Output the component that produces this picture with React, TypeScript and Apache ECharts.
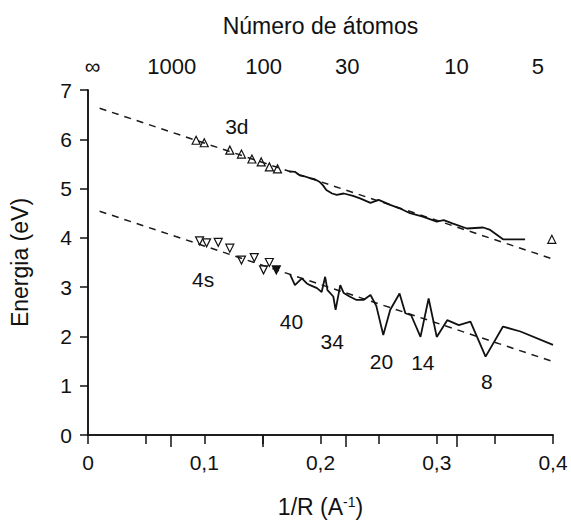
import React, { useEffect, useRef } from "react";
import * as echarts from "echarts";

// Fitted (dashed) lines
const fitX = [0.01, 0.4];
const fit3dY = [6.63, 3.57];
const fit4sY = [4.54, 1.49];

// 3d: open up-triangles (small clusters)
const d3MarkX = [0.093, 0.1, 0.122, 0.132, 0.141, 0.149, 0.156, 0.163, 0.399];
const d3MarkY = [5.98, 5.93, 5.78, 5.7, 5.6, 5.54, 5.44, 5.4, 3.97];

// 3d: continuous curve
const d3LineX = [0.173, 0.178, 0.182, 0.186, 0.191, 0.195, 0.199, 0.202, 0.205, 0.21, 0.214, 0.22, 0.228, 0.234, 0.243, 0.25, 0.26, 0.268, 0.277, 0.288, 0.3, 0.306, 0.314, 0.326, 0.34, 0.346, 0.357, 0.376];
const d3LineY = [5.35, 5.34, 5.27, 5.25, 5.21, 5.19, 5.14, 5.07, 4.97, 4.9, 4.87, 4.9, 4.85, 4.8, 4.71, 4.77, 4.67, 4.6, 4.5, 4.43, 4.33, 4.36, 4.29, 4.19, 4.21, 4.16, 3.97, 3.97];

// 4s: open down-triangles
const s4MarkX = [0.096, 0.102, 0.112, 0.122, 0.132, 0.143, 0.151, 0.156, 0.162];
const s4MarkY = [3.94, 3.9, 3.91, 3.79, 3.55, 3.6, 3.35, 3.5, 3.35];
const s4FilledIndex = 8;

// 4s: jagged curve
const s4LineX = [0.174, 0.178, 0.184, 0.188, 0.191, 0.197, 0.201, 0.204, 0.206, 0.211, 0.213, 0.217, 0.22, 0.225, 0.231, 0.237, 0.243, 0.248, 0.254, 0.26, 0.268, 0.273, 0.278, 0.286, 0.293, 0.3, 0.309, 0.319, 0.329, 0.342, 0.357, 0.372, 0.4];
const s4LineY = [3.25, 3.04, 3.18, 3.08, 3.04, 2.98, 2.9, 3.21, 2.94, 2.81, 2.54, 3.04, 2.88, 2.81, 2.74, 2.74, 2.84, 2.62, 2.03, 2.54, 2.87, 2.47, 2.43, 1.99, 2.77, 1.99, 2.33, 2.23, 2.3, 1.59, 2.2, 2.1, 1.83];

// Annotations
const noteTexts = ["3d", "4s", "40", "34", "20", "14", "8"];
const noteX = [0.128, 0.099, 0.175, 0.21, 0.2525, 0.288, 0.343];
const noteY = [6.25, 3.16, 2.3, 1.89, 1.5, 1.47, 1.08];

// Top axis (number of atoms)
const topLabelValues = [0.004, 0.072, 0.151, 0.223, 0.317, 0.387];
const topLabelTexts = ["∞", "1000", "100", "30", "10", "5"];
const topTickValues = [0.071, 0.15, 0.222, 0.317];

const FONT = "'Liberation Sans', Arial, sans-serif";
const INK = "#111";

const zip = (xs: number[], ys: number[]) => xs.map((x, i) => [x, ys[i]]);

export default function App() {
  const ref = useRef<HTMLDivElement>(null);
  useEffect(() => {
    if (!ref.current) return;
    const chart = echarts.init(ref.current, undefined, { renderer: "svg" });
    const lineStyleAxis = { color: INK, width: 1.5 };
    chart.setOption({
      animation: false,
      backgroundColor: "#fff",
      textStyle: { fontFamily: FONT, color: INK },
      grid: { left: 88, right: 18, top: 90, bottom: 89 },
      xAxis: [
        {
          type: "value",
          position: "bottom",
          min: 0,
          max: 0.4,
          interval: 0.05,
          axisLine: { show: true, lineStyle: lineStyleAxis },
          axisTick: { show: true, inside: false, length: 9, lineStyle: lineStyleAxis },
          splitLine: { show: false },
          axisLabel: {
            fontSize: 21,
            fontFamily: FONT,
            color: INK,
            margin: 17,
            formatter: (v: number) => {
              const k = Math.round(v * 100);
              if (k % 10 !== 0) return "";
              return k === 0 ? "0" : v.toFixed(1).replace(".", ",");
            },
          },
          name: "1/R (A{sup|-1})",
          nameLocation: "middle",
          nameGap: 60,
          nameTextStyle: {
            fontSize: 23,
            fontFamily: FONT,
            color: INK,
            rich: { sup: { fontSize: 14, fontFamily: FONT, color: INK, verticalAlign: "top", padding: [0, 0, 10, 0] } },
          },
        },
        {
          type: "value",
          position: "top",
          min: 0,
          max: 0.4,
          axisLine: { show: true, lineStyle: lineStyleAxis },
          axisTick: { show: true, inside: true, length: 12, customValues: topTickValues, lineStyle: lineStyleAxis },
          splitLine: { show: false },
          axisLabel: {
            fontSize: 22,
            fontFamily: FONT,
            color: INK,
            margin: 13,
            customValues: topLabelValues,
            formatter: (v: number) => {
              let best = 0;
              topLabelValues.forEach((t, i) => {
                if (Math.abs(t - v) < Math.abs(topLabelValues[best] - v)) best = i;
              });
              return topLabelTexts[best];
            },
          },
          name: "Número de átomos",
          nameLocation: "middle",
          nameGap: 53,
          nameTextStyle: { fontSize: 23, fontFamily: FONT, color: INK },
        },
      ],
      yAxis: [
        {
          type: "value",
          min: 0,
          max: 7,
          interval: 1,
          axisLine: { show: true, lineStyle: lineStyleAxis },
          axisTick: { show: true, inside: false, length: 8, lineStyle: lineStyleAxis },
          splitLine: { show: false },
          axisLabel: { fontSize: 21, fontFamily: FONT, color: INK, margin: 16 },
          name: "Energia (eV)",
          nameLocation: "middle",
          nameGap: 57,
          nameTextStyle: { fontSize: 23, fontFamily: FONT, color: INK },
        },
        {
          type: "value",
          position: "right",
          min: 0,
          max: 7,
          axisLine: { show: true, lineStyle: lineStyleAxis },
          axisTick: { show: false },
          axisLabel: { show: false },
          splitLine: { show: false },
        },
      ],
      series: [
        {
          name: "fit3d",
          type: "line",
          data: zip(fitX, fit3dY),
          symbol: "none",
          lineStyle: { color: "#1a1a1a", width: 1.5, type: [7, 6] },
          silent: true,
        },
        {
          name: "fit4s",
          type: "line",
          data: zip(fitX, fit4sY),
          symbol: "none",
          lineStyle: { color: "#1a1a1a", width: 1.5, type: [7, 6] },
          silent: true,
        },
        {
          name: "3d marks",
          type: "scatter",
          data: zip(d3MarkX, d3MarkY),
          symbol: "triangle",
          symbolSize: 8,
          itemStyle: { color: "#fff", borderColor: INK, borderWidth: 1.2, opacity: 1 },
        },
        {
          name: "3d",
          type: "line",
          data: zip(d3LineX, d3LineY),
          symbol: "none",
          lineStyle: { color: INK, width: 1.8 },
        },
        {
          name: "4s marks",
          type: "scatter",
          data: zip(s4MarkX, s4MarkY).map((p, i) =>
            i === s4FilledIndex ? { value: p, itemStyle: { color: INK } } : p
          ),
          symbol: "triangle",
          symbolRotate: 180,
          symbolSize: 8,
          itemStyle: { color: "#fff", borderColor: INK, borderWidth: 1.2, opacity: 1 },
        },
        {
          name: "4s",
          type: "line",
          data: zip(s4LineX, s4LineY),
          symbol: "none",
          lineStyle: { color: INK, width: 1.8 },
        },
        {
          name: "notes",
          type: "scatter",
          data: noteX.map((x, i) => ({ value: [x, noteY[i]], name: noteTexts[i] })),
          symbolSize: 0,
          silent: true,
          itemStyle: { opacity: 1 },
          label: {
            show: true,
            position: "inside",
            formatter: (p: any) => p.name,
            fontSize: 21,
            fontFamily: FONT,
            color: INK,
            opacity: 1,
          },
        },
      ],
    });
    return () => chart.dispose();
  }, []);
  return <div ref={ref} style={{ position: "fixed", left: 0, top: 0, width: 571, height: 524 }} />;
}
